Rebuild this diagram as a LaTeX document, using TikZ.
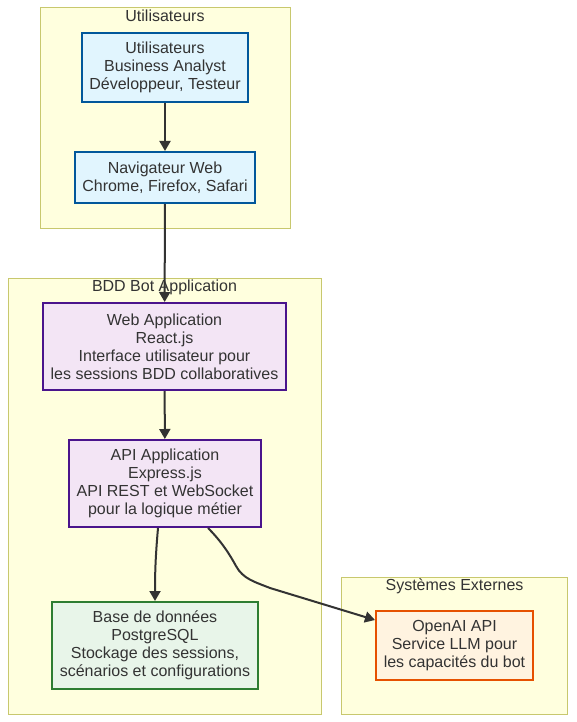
\documentclass[tikz,border=0pt]{standalone}
\usepackage{fontspec}
\setmainfont{Liberation Sans}
\usetikzlibrary{arrows.meta}
\definecolor{groupfill}{RGB}{255, 255, 222}
\definecolor{groupborder}{RGB}{200, 200, 110}
\definecolor{userblue}{RGB}{1, 87, 155}
\definecolor{userfill}{RGB}{225, 245, 254}
\definecolor{apppurple}{RGB}{74, 20, 140}
\definecolor{appfill}{RGB}{243, 229, 245}
\definecolor{dbgreen}{RGB}{46, 125, 50}
\definecolor{dbfill}{RGB}{232, 245, 233}
\definecolor{extorange}{RGB}{230, 81, 0}
\definecolor{extfill}{RGB}{255, 243, 224}
\definecolor{arrowcolor}{RGB}{51, 51, 51}
\definecolor{textcolor}{RGB}{51, 51, 51}
\tikzset{
    group/.style={
        rectangle,
        draw=groupborder,
        fill=groupfill,
        line width=1pt,
        inner sep=0pt
    },
    grouptitle/.style={
        text=textcolor,
        font=\fontsize{16}{18}\selectfont,
        inner sep=0pt,
        text height=11.5pt,
        text depth=0pt
    },
    component/.style={
        rectangle,
        line width=2pt,
        inner sep=0pt,
        align=center,
        text=textcolor,
        font=\fontsize{16}{18}\selectfont
    },
    usernode/.style={component, draw=userblue, fill=userfill},
    appnode/.style={component, draw=apppurple, fill=appfill},
    dbnode/.style={component, draw=dbgreen, fill=dbfill},
    extnode/.style={component, draw=extorange, fill=extfill},
    arrow/.style={
        line width=2pt,
        -{Triangle[length=10pt, width=11pt]},
        color=arrowcolor
    }
}
\begin{document}
\begin{tikzpicture}[x=1pt, y=-1pt]
    \useasboundingbox (0,0) rectangle (576,722);

    % Define group boxes
    \node (usersgroup) [group, minimum width=250pt, minimum height=220pt] at (165,118) {};
    \node (appgroup) [group, minimum width=313pt, minimum height=436pt] at (164.5,496) {};
    \node (extgroup) [group, minimum width=226pt, minimum height=137pt] at (454.5,645.5) {};

    \node (usersgrouptitle) [grouptitle] at (165,16) {Utilisateurs};
    \node (appgrouptitle) [grouptitle] at (164.5,286) {BDD Bot Application};
    \node (extgrouptitle) [grouptitle] at (454.5,585) {Systèmes Externes};

    % Define main component nodes
    \node (users) [usernode, minimum width=166pt, minimum height=69pt] at (165,67.5)
        {Utilisateurs\\Business Analyst\\Développeur, Testeur};
    \node (browser) [usernode, minimum width=180pt, minimum height=51pt] at (165,177.5)
        {Navigateur Web\\Chrome, Firefox, Safari};
    \node (webapp) [appnode, minimum width=243pt, minimum height=87pt] at (164.5,346.5)
        {Web Application\\React.js\\Interface utilisateur pour\\les sessions BDD collaboratives};
    \node (api) [appnode, minimum width=192pt, minimum height=87pt] at (165,483.5)
        {API Application\\Express.js\\API REST et WebSocket\\pour la logique métier};
    \node (db) [dbnode, minimum width=206pt, minimum height=87pt] at (155,645.5)
        {Base de données\\PostgreSQL\\Stockage des sessions,\\scénarios et configurations};
    \node (openai) [extnode, minimum width=157pt, minimum height=69pt] at (454.5,645.5)
        {OpenAI API\\Service LLM pour\\les capacités du bot};

    % Draw main arrows
    \draw [arrow] (users) -- (browser);
    \draw [arrow] (browser) -- (webapp);
    \draw [arrow] (webapp) -- (api);
    \draw [arrow] ([xshift=-7pt]api.south) to[out=-95, in=90] (db.north);
    \draw [arrow] ([xshift=43pt]api.south) .. controls (222,542) and (230,555) .. (236,566)
        .. controls (243,579) and (255,582) .. (270,588) -- ([yshift=25.5pt]openai.west);

\end{tikzpicture}
\end{document}
